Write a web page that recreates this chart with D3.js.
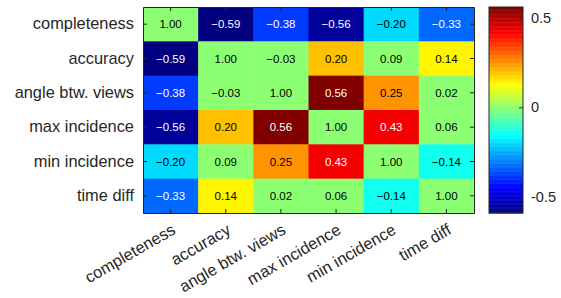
<!DOCTYPE html>
<html>
<head>
<meta charset="utf-8">
<script src="https://cdn.jsdelivr.net/npm/d3@7"></script>
<style>
  body { margin: 0; background: #fff; }
  svg { font-family: "Liberation Sans", Arial, sans-serif; }
</style>
</head>
<body>
<div id="chart"></div>
<script>
const labels = ["completeness", "accuracy", "angle btw. views", "max incidence", "min incidence", "time diff"];
const values = [
    [1.00, -0.59, -0.38, -0.56, -0.20, -0.33],
    [-0.59, 1.00, -0.03, 0.20, 0.09, 0.14],
    [-0.38, -0.03, 1.00, 0.56, 0.25, 0.02],
    [-0.56, 0.20, 0.56, 1.00, 0.43, 0.06],
    [-0.20, 0.09, 0.25, 0.43, 1.00, -0.14],
    [-0.33, 0.14, 0.02, 0.06, -0.14, 1.00]
];
const colorLimits = [-0.59, 0.56];
const colorbarTicks = [-0.5, 0, 0.5];
// cells below this magnitude (and the diagonal) are coloured as zero
const minShown = 0.1;

document.addEventListener("DOMContentLoaded", drawChart);

function jet(t) {
    const c = v => Math.max(0, Math.min(1, v));
    const r = c(1.5 - Math.abs(4 * t - 3)),
        g = c(1.5 - Math.abs(4 * t - 2)),
        b = c(1.5 - Math.abs(4 * t - 1));
    return d3.rgb(r * 255, g * 255, b * 255).toString();
}

function drawChart() {
    const width = 561, height = 298,
        left = 143, top = 7, plotW = 331, plotH = 206,
        cbX = 489, cbW = 34,
        axisColor = "#262626";

    const svg = d3.select("#chart").append("svg")
        .attr("width", width)
        .attr("height", height);

    const x = d3.scaleBand().domain(labels).range([left, left + plotW]);
    const y = d3.scaleBand().domain(labels).range([top, top + plotH]);
    const t = d3.scaleLinear().domain(colorLimits).range([0, 1]).clamp(true);

    const cells = [];
    values.forEach((row, i) => row.forEach((v, j) => {
        const shown = (i === j || Math.abs(v) < minShown) ? 0 : v;
        cells.push({ row: labels[i], col: labels[j], v: v, c: shown });
    }));

    const cGroup = svg.append("g");
    cGroup.selectAll("rect")
        .data(cells)
        .enter()
        .append("rect")
        .attr("x", d => x(d.col))
        .attr("y", d => y(d.row))
        .attr("width", x.bandwidth() + 0.5)
        .attr("height", y.bandwidth() + 0.5)
        .attr("fill", d => jet(t(d.c)));

    cGroup.selectAll("text")
        .data(cells)
        .enter()
        .append("text")
        .attr("x", d => x(d.col) + x.bandwidth() / 2)
        .attr("y", d => y(d.row) + y.bandwidth() / 2)
        .attr("dy", "0.35em")
        .attr("text-anchor", "middle")
        .style("font-size", "11.5px")
        .attr("fill", d => (d.row !== d.col && Math.abs(d.v) > 0.3) ? "#fff" : "#000")
        .text(d => d3.format(".2f")(d.v));

    // axes, ticks pointing inward
    svg.append("g")
        .attr("transform", `translate(${left},0)`)
        .call(d3.axisLeft(y).tickSizeInner(-4).tickSizeOuter(0).tickPadding(9));
    const xAxis = svg.append("g")
        .attr("transform", `translate(0,${top + plotH})`)
        .call(d3.axisBottom(x).tickSizeInner(-4).tickSizeOuter(0).tickPadding(0));
    svg.append("g")
        .attr("transform", `translate(0,${top})`)
        .call(d3.axisTop(x).tickSizeInner(-4).tickSizeOuter(0).tickFormat(""));
    svg.append("g")
        .attr("transform", `translate(${left + plotW},0)`)
        .call(d3.axisRight(y).tickSizeInner(-4).tickSizeOuter(0).tickFormat(""));

    xAxis.selectAll("text")
        .attr("text-anchor", "end")
        .attr("y", 0)
        .attr("dy", 0)
        .attr("transform", "translate(6,20) rotate(-30)");

    svg.selectAll(".tick text")
        .style("font-size", "16.4px")
        .attr("fill", axisColor);
    svg.selectAll(".domain, .tick line")
        .attr("stroke", axisColor);

    // colour bar
    const cb = d3.scaleLinear().domain(colorLimits).range([top + plotH, top]);
    const steps = d3.range(0, 256);
    const stepH = plotH / steps.length;
    svg.append("g").selectAll("rect")
        .data(steps)
        .enter()
        .append("rect")
        .attr("x", cbX)
        .attr("y", d => top + plotH - (d + 1) * stepH)
        .attr("width", cbW)
        .attr("height", stepH + 0.5)
        .attr("fill", d => jet((d + 0.5) / steps.length));

    svg.append("rect")
        .attr("x", cbX)
        .attr("y", top)
        .attr("width", cbW)
        .attr("height", plotH)
        .attr("fill", "none")
        .attr("stroke", axisColor);

    const cbAxis = svg.append("g")
        .attr("transform", `translate(${cbX + cbW},0)`)
        .call(d3.axisRight(cb).tickValues(colorbarTicks).tickSizeInner(-4).tickSizeOuter(0).tickPadding(8)
            .tickFormat(d => d === 0 ? "0" : d3.format(".1f")(d).replace("\u2212", "-")));
    cbAxis.select(".domain").remove();
    cbAxis.selectAll("text")
        .style("font-size", "14.5px")
        .attr("fill", axisColor);
    cbAxis.selectAll("line").attr("stroke", axisColor);
}
</script>
</body>
</html>
